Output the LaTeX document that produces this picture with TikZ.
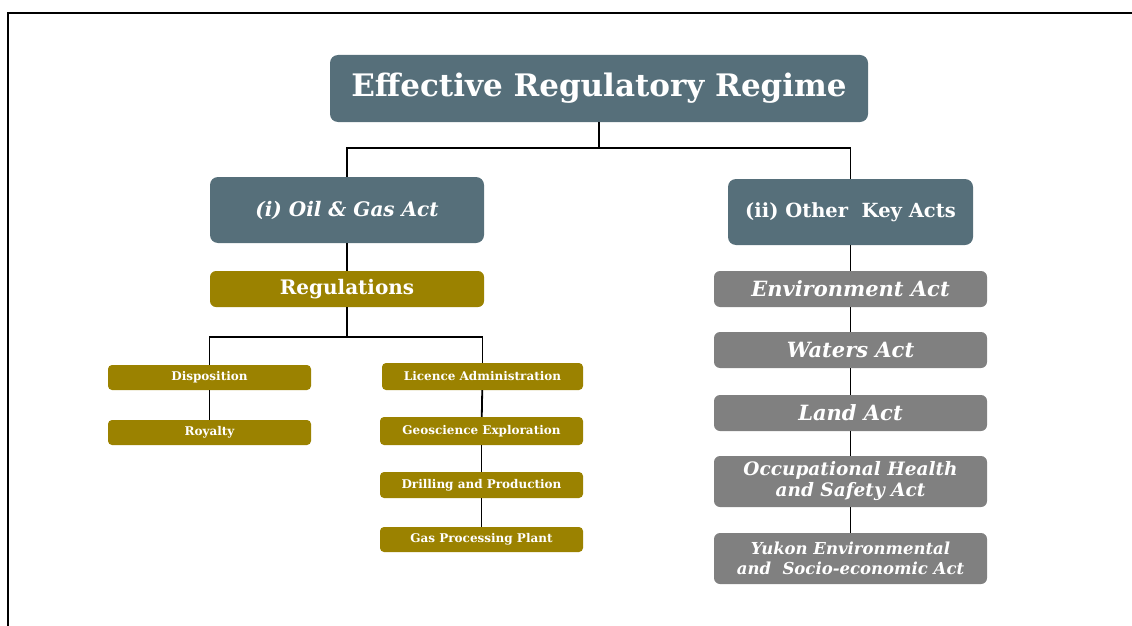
\documentclass[tikz,border=0pt]{standalone}
\usepackage{fontspec}
\setmainfont{DejaVu Serif}
\begin{document}
\begin{tikzpicture}[x=1pt,y=-1pt,
  base/.style={rounded corners=6pt, text=white, align=center, inner sep=0pt},
  slate/.style={base, fill=slatec},
  olive/.style={base, fill=olivec},
  grey/.style={base, fill=greyc},
  small/.style={olive, rounded corners=4pt, font=\fontsize{12}{14}\selectfont\bfseries},
  greyact/.style={grey, minimum width=273, font=\fontsize{21}{24}\selectfont\bfseries\itshape},
  conn/.style={draw=black, line width=1.8pt}]
\definecolor{slatec}{RGB}{86,111,122}
\definecolor{olivec}{RGB}{155,130,0}
\definecolor{greyc}{RGB}{128,128,128}
\useasboundingbox (0,0) rectangle (1132,626);
\draw[line width=1.2pt] (8,626) -- (8,13) -- (1132,13);
% nodes
\node[slate, minimum width=538, minimum height=67, rounded corners=8pt, font=\fontsize{31}{34}\selectfont\bfseries] (top) at (599,88.5) {Effective Regulatory Regime};
\node[slate, minimum width=274, minimum height=66, rounded corners=8pt, font=\fontsize{20}{23}\selectfont\bfseries\itshape] (oga) at (347,210) {(i) Oil \& Gas Act};
\node[slate, minimum width=245, minimum height=66, rounded corners=8pt, font=\fontsize{19.5}{23}\selectfont\bfseries] (oka) at (850.5,212) {(ii) Other\ \ Key Acts};
\node[olive, minimum width=274, minimum height=36, font=\fontsize{20}{23}\selectfont\bfseries] (reg) at (347,289) {Regulations};
\node[small, minimum width=203, minimum height=25] (disp) at (209.5,377.5) {Disposition};
\node[small, minimum width=203, minimum height=25] (roy) at (209.5,432.5) {Royalty};
\node[small, minimum width=201, minimum height=27] (lic) at (482.5,376.5) {Licence Administration};
\node[small, minimum width=203, minimum height=28] (geo) at (481.5,431) {Geoscience Exploration};
\node[small, minimum width=203, minimum height=26] (dri) at (481.5,485) {Drilling and Production};
\node[small, minimum width=203, minimum height=25] (gas) at (481.5,539.5) {Gas Processing Plant};
\node[greyact, minimum height=36] (env) at (850.5,289) {Environment Act};
\node[greyact, minimum height=36] (wat) at (850.5,350) {Waters Act};
\node[greyact, minimum height=36] (land) at (850.5,413) {Land Act};
\node[greyact, minimum height=51, font=\fontsize{18.5}{21}\selectfont\bfseries\itshape] (ohs) at (850.5,481.5) {Occupational Health\\and Safety Act};
\node[greyact, minimum height=51, font=\fontsize{16.5}{20}\selectfont\bfseries\itshape] (yuk) at (850.5,558.5) {Yukon Environmental\\and\ \ Socio-economic Act};
% connectors
\coordinate (j1) at (599,148);
\draw[conn] (top.south) -- (j1);
\draw[conn] (oga.north) -- (oga.north |- j1) -- (oka.north |- j1) -- (oka.north);
\draw[conn] (oga) -- (reg);
\coordinate (j2) at (347,337);
\draw[conn] (reg.south) -- (j2);
\draw[conn] (disp.north) -- (disp.north |- j2) -- (lic.north |- j2) -- (lic.north);
\draw[conn] (disp) -- (roy);
\draw[conn] (lic) -- (geo);
\draw[conn] (geo) -- (dri);
\draw[conn] (dri) -- (gas);
\draw[conn] (oka) -- (env);
\draw[conn] (env) -- (wat);
\draw[conn] (wat) -- (land);
\draw[conn] (land) -- (ohs);
\draw[conn] (ohs) -- (yuk);
\end{tikzpicture}
\end{document}
